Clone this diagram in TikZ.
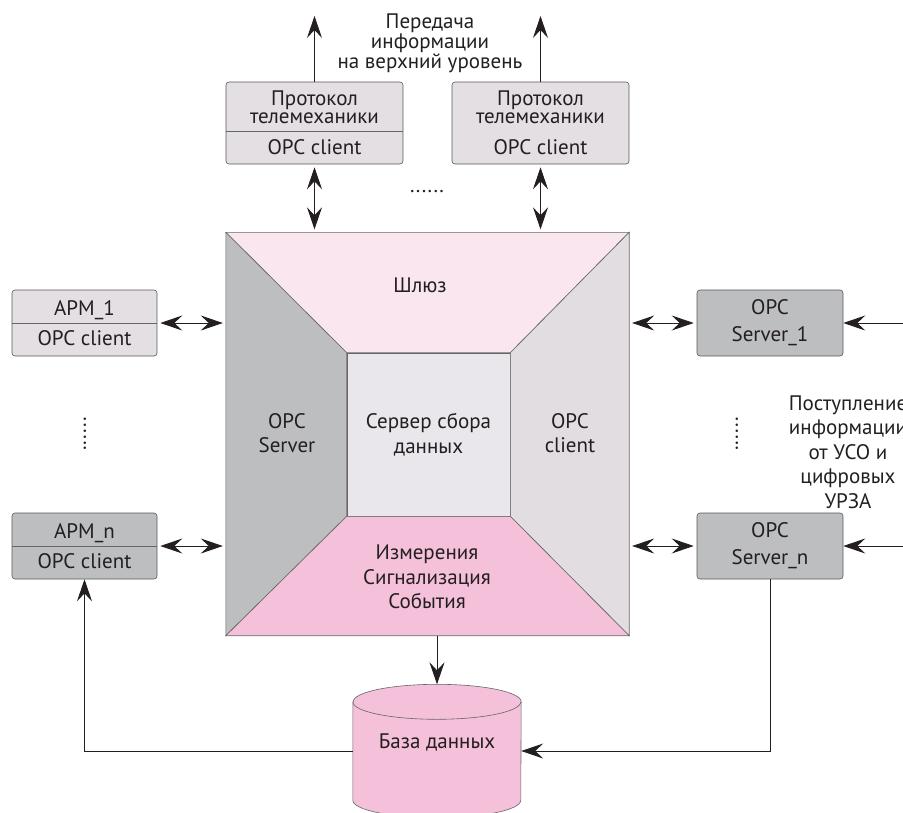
\documentclass[tikz,border=0pt]{standalone}
\usepackage{fontspec}
\setmainfont{PT Sans}
\usetikzlibrary{positioning,arrows.meta}

\definecolor{gatepink}{HTML}{FAE6EF}
\definecolor{measpink}{HTML}{F5C0D9}
\definecolor{srvgrey}{HTML}{BCBEC0}
\definecolor{cligrey}{HTML}{E2DDE1}
\definecolor{coregrey}{HTML}{E9E7EB}
\definecolor{boxgrey}{HTML}{E3DFE3}
\definecolor{ink}{HTML}{231F20}

\tikzset{
  sharp/.tip={Stealth[length=22pt,width=15pt,inset=8pt]},
  box/.style={draw=black!65,line width=0.6pt,rounded corners=3pt,fill=boxgrey,
    minimum width=145pt,minimum height=66pt,align=center},
  darkbox/.style={box,fill=srvgrey},
  protobox/.style={box,minimum width=177pt,minimum height=82pt,
    font=\fontsize{21}{18}\selectfont},
  face/.style={draw=black!60,line width=0.6pt},
  link/.style={draw=ink,line width=0.8pt},
  dbcap/.style={x radius=84pt,y radius=17.5pt}
}

\begin{document}
\begin{tikzpicture}[x=1pt,y=-1pt,on grid,
    every node/.style={font=\fontsize{21}{24.5}\selectfont,text=ink}]
  \useasboundingbox (0,0) rectangle (903,812);

  % server body
  \node[minimum size=403pt,inner sep=0pt] (sq) at (427.5,434) {};
  \node[face,fill=coregrey,minimum size=163pt,inner sep=0pt,align=center] (core) at (428.5,434.5) {Сервер сбора\\данных};
  \filldraw[face,fill=gatepink] (sq.north west) -- (sq.north east) -- (core.north east) -- (core.north west) -- cycle;
  \filldraw[face,fill=srvgrey] (sq.north west) -- (core.north west) -- (core.south west) -- (sq.south west) -- cycle;
  \filldraw[face,fill=cligrey] (sq.north east) -- (core.north east) -- (core.south east) -- (sq.south east) -- cycle;
  \filldraw[face,fill=measpink] (sq.south west) -- (core.south west) -- (core.south east) -- (sq.south east) -- cycle;
  \node (gate) at (420,285) {Шлюз};
  \node[align=center] (opcsrv) at (287,433) {OPC\\Server};
  \node[align=center] (opccli) at (570,433) {OPC\\client};
  \node[align=center] (meas) at (427,577) {Измерения\\Сигнализация\\События};

  % upper level
  \node[protobox] (proto1) at (314.5,123) {Протокол\\телемеханики\\[13pt]OPC client};
  \node[protobox] (proto2) [right=226pt of proto1] {Протокол\\телемеханики\\[13pt]OPC client};
  \draw[face] ([yshift=-8pt]proto1.west) -- ([yshift=-8pt]proto1.east);
  \node[align=center,font=\fontsize{21}{18}\selectfont] (uplink) at (430,43) {Передача\\информации\\на верхний уровень};
  \node (hdots) at (427,192) {......};
  \coordinate (out1) at (proto1.north |- 0,16);
  \coordinate (out2) at (proto2.north |- 0,16);

  % workstations
  \node[box] (apm1) at (84.5,323) {APM\_1\\[5.5pt]OPC client};
  \node[darkbox] (apmn) [below=223pt of apm1] {APM\_n\\[5.5pt]OPC client};
  \draw[face] (apm1.west) -- (apm1.east);
  \draw[face] (apmn.west) -- (apmn.east);
  \node[rotate=90] (ldots) at (85,434) {......};

  % field servers
  \node[darkbox,minimum width=146pt] (srv1) at (770,323) {OPC\\[2.5pt]Server\_1};
  \node[darkbox,minimum width=146pt] (srvn) [below=223pt of srv1] {OPC\\[2.5pt]Server\_n};
  \node[rotate=90] (rdots) at (737,434) {......};
  \node[align=center] (feed) at (848,452) {Поступление\\информации\\от УСО и\\цифровых\\УРЗА};
  \coordinate (in1) at (905,323);
  \coordinate (inn) at (905,546);

  % archive
  \node[minimum width=168pt,minimum height=98pt,inner sep=0pt] (db) at (437,751) {};
  \filldraw[face,fill=measpink] (db.north west) -- (db.south west) arc[start angle=180,end angle=360,dbcap]
    -- (db.north east) arc[start angle=0,end angle=180,dbcap] -- cycle;
  \draw[face] (db.north west) arc[start angle=180,end angle=360,dbcap];
  \node (dbtext) at (437,742) {База данных};
  \coordinate (dbtop) at ([yshift=17.5pt]db.north);

  \draw[link,-sharp] (proto1) -- (out1);
  \draw[link,-sharp] (proto2) -- (out2);
  \draw[link,sharp-sharp,shorten <=3pt,shorten >=3pt] (proto1) -- (proto1 |- sq.north);
  \draw[link,sharp-sharp,shorten <=3pt,shorten >=3pt] (proto2) -- (proto2 |- sq.north);
  \draw[link,sharp-sharp,shorten <=3pt,shorten >=3pt] (apm1) -- (apm1 -| sq.west);
  \draw[link,sharp-sharp,shorten <=3pt,shorten >=3pt] (apmn) -- (apmn -| sq.west);
  \draw[link,sharp-sharp,shorten <=3pt,shorten >=3pt] (srv1) -- (srv1 -| sq.east);
  \draw[link,sharp-sharp,shorten <=3pt,shorten >=3pt] (srvn) -- (srvn -| sq.east);
  \draw[link,-sharp] (in1) -- (srv1);
  \draw[link,-sharp] (inn) -- (srvn);
  \draw[link,-sharp] (sq.south -| dbtop) -- (dbtop);
  \draw[link,-sharp] (db.west) -| (apmn);
  \draw[link,-sharp] (srvn) |- (db.east);
\end{tikzpicture}
\end{document}
